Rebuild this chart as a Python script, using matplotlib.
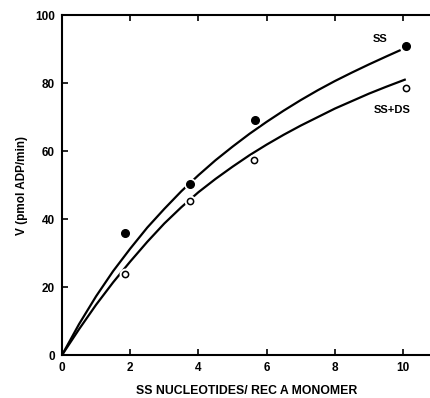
import numpy as np
import matplotlib
matplotlib.use("Agg")
import matplotlib.pyplot as plt

plt.rcParams['font.family'] = ['Liberation Sans', 'DejaVu Sans']

# measured rates
ss_x = [1.85, 3.75, 5.66, 10.1]
ss_v = [35.8, 50.3, 69.1, 91.0]
ssds_x = [1.85, 3.75, 5.64, 10.1]
ssds_v = [23.8, 45.3, 57.4, 78.7]

# fitted curves drawn through the data
ss_fit_x = [0, 0.5, 1, 1.5, 2, 2.5, 3, 3.5, 4, 4.5, 5, 5.5, 6, 6.5, 7,
            7.5, 8, 8.5, 9, 9.5, 9.9]
ss_fit_v = [0, 9.1, 17.3, 24.7, 31.3, 37.5, 43.0, 48.2, 52.9, 57.3, 61.3,
            65.1, 68.6, 71.9, 75.0, 77.9, 80.6, 83.1, 85.5, 87.8, 89.6]
ssds_fit_x = [0, 0.5, 1, 1.5, 2, 2.5, 3, 3.5, 4, 4.5, 5, 5.5, 6, 6.5, 7,
              7.5, 8, 8.5, 9, 9.5, 10.05]
ssds_fit_v = [0, 7.6, 14.8, 21.4, 27.5, 33.3, 38.7, 43.5, 47.9, 51.8, 55.4,
              58.8, 61.9, 64.8, 67.5, 70.0, 72.5, 74.7, 76.9, 78.9, 81.0]

x_ticks = [0, 2, 4, 6, 8, 10]
y_ticks = [0, 20, 40, 60, 80, 100]

fig = plt.figure(figsize=(4.31, 3.98), dpi=100)
ax = fig.add_axes([0.1439, 0.108, 0.8561, 0.854])

ax.plot(ss_fit_x, ss_fit_v, color='black', lw=1.6, zorder=2)
ax.plot(ssds_fit_x, ssds_fit_v, color='black', lw=1.6, zorder=2)

# white halo under the symbols breaks the line where they sit on it
ax.plot(ss_x, ss_v, 'o', ms=8, color='white', zorder=3)
ax.plot(ssds_x, ssds_v, 'o', ms=7.5, color='white', zorder=3)
ax.plot(ss_x, ss_v, 'o', ms=5.5, color='black', zorder=4)
ax.plot(ssds_x, ssds_v, 'o', ms=4.5, mfc='white', mec='black', mew=1.1, zorder=4)

ax.text(9.33, 93.1, 'SS', fontsize=8, fontweight='bold', ha='center', va='center')
ax.text(9.67, 72.0, 'SS+DS', fontsize=8, fontweight='bold', ha='center', va='center')

ax.set_xlim(0, 10.82)
ax.set_ylim(0, 100)
ax.set_xticks(x_ticks)
ax.set_yticks(y_ticks)
ax.tick_params(direction='in', length=4, width=1.2, labelsize=8.5, top=True, right=False, pad=5)
for lab in ax.get_xticklabels() + ax.get_yticklabels():
    lab.set_fontweight('bold')

for side in ['left', 'bottom', 'top']:
    ax.spines[side].set_linewidth(1.5)
ax.spines['right'].set_visible(False)

ax.set_xlabel('SS NUCLEOTIDES/ REC A MONOMER', fontsize=8.8, fontweight='bold', labelpad=8)
ax.set_ylabel('V (pmol ADP/min)', fontsize=8.5, fontweight='bold', labelpad=5)

fig.savefig('out.png', dpi=100)
